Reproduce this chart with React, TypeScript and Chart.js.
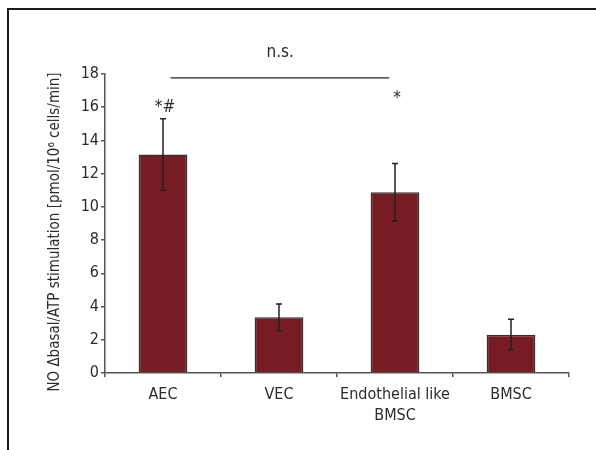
import React, { useEffect, useRef } from "react";
import { Chart, registerables } from "chart.js";

Chart.register(...registerables);

const categories: (string | string[])[] = ["AEC", "VEC", ["Endothelial like", "BMSC"], "BMSC"];
const meanValues = [13.15, 3.35, 10.88, 2.31];
const errorValues = [2.15, 0.8, 1.73, 0.92];
const markLabels = ["*#", "", "*", ""];
const markYValues = [16.0, 0, 16.5, 0];
const nsLabel = "n.s.";
const nsFromIndex = 0.065;
const nsToIndex = 1.95;
const nsLineY = 17.77;
const nsTextIndex = 1.01;
const nsTextY = 19.3;
const yTitle = "NO \u0394basal/ATP stimulation [pmol/10\u2076 cells/min]";

const FONT = "'Liberation Sans Narrow', 'DejaVu Sans Condensed', 'Liberation Sans', sans-serif";
const TEXT = "#2b2b2b";

const annotPlugin = {
  id: "annot",
  afterDatasetsDraw(chart: any) {
    const ctx = chart.ctx;
    const xs = chart.scales.x;
    const ys = chart.scales.y;
    const meta = chart.getDatasetMeta(0);
    ctx.save();
    // error bars
    ctx.strokeStyle = "#222";
    ctx.lineWidth = 1.5;
    meta.data.forEach((el: any, i: number) => {
      const x = el.x;
      const yt = ys.getPixelForValue(meanValues[i] + errorValues[i]);
      const yb = ys.getPixelForValue(meanValues[i] - errorValues[i]);
      ctx.beginPath();
      ctx.moveTo(x, yt);
      ctx.lineTo(x, yb);
      ctx.moveTo(x - 3, yt);
      ctx.lineTo(x + 3, yt);
      ctx.moveTo(x - 3, yb);
      ctx.lineTo(x + 3, yb);
      ctx.stroke();
    });
    // significance marks
    ctx.fillStyle = TEXT;
    ctx.font = `17px ${FONT}`;
    ctx.textAlign = "center";
    ctx.textBaseline = "middle";
    markLabels.forEach((lab, i) => {
      if (!lab) return;
      ctx.fillText(lab, xs.getPixelForValue(i) + 2, ys.getPixelForValue(markYValues[i]));
    });
    // n.s. bracket
    const ly = ys.getPixelForValue(nsLineY);
    ctx.strokeStyle = "#222";
    ctx.lineWidth = 1.3;
    ctx.beginPath();
    ctx.moveTo(xs.getPixelForValue(nsFromIndex), ly);
    ctx.lineTo(xs.getPixelForValue(nsToIndex), ly);
    ctx.stroke();
    ctx.fillText(nsLabel, xs.getPixelForValue(nsTextIndex), ys.getPixelForValue(nsTextY));
    // y title
    ctx.translate(55, 232);
    ctx.rotate(-Math.PI / 2);
    ctx.font = `15px ${FONT}`;
    ctx.fillText(yTitle, 0, 0);
    ctx.restore();
  },
};

export default function App() {
  const ref = useRef<HTMLCanvasElement>(null);
  useEffect(() => {
    if (!ref.current) return;
    const chart = new Chart(ref.current, {
      type: "bar",
      data: {
        labels: categories,
        datasets: [
          {
            data: meanValues,
            backgroundColor: "#761c22",
            borderColor: "#333",
            borderWidth: 1.5,
            categoryPercentage: 1,
            barPercentage: 0.42,
          },
        ],
      },
      options: {
        animation: false,
        responsive: false,
        layout: { padding: { left: 0, top: 74, right: 27, bottom: 0 } },
        plugins: { legend: { display: false }, tooltip: { enabled: false } },
        scales: {
          x: {
            afterFit: (s: any) => {
              s.height = 77;
            },
            grid: { display: true, drawOnChartArea: false, drawTicks: true, tickLength: 4, color: "#555", lineWidth: 1.5, offset: true },
            border: { display: true, color: "#555", width: 1.5 },
            ticks: { color: TEXT, font: { family: FONT, size: 16, lineHeight: 1.28 }, padding: 8, maxRotation: 0, autoSkip: false },
          },
          y: {
            min: 0,
            max: 18,
            afterFit: (s: any) => {
              s.width = 105;
            },
            grid: { display: true, drawOnChartArea: false, drawTicks: true, tickLength: 4, color: "#555", lineWidth: 1.5 },
            border: { display: true, color: "#555", width: 1.5 },
            ticks: { stepSize: 2, color: TEXT, font: { family: FONT, size: 16 }, padding: 2 },
          },
        },
      },
      plugins: [annotPlugin],
    });
    return () => chart.destroy();
  }, []);
  return (
    <div style={{ position: "fixed", left: 0, top: 0, width: 596, height: 450, overflow: "hidden", background: "#fff" }}>
      <div style={{ position: "absolute", left: 7, top: 8, width: 700, height: 600, borderTop: "2px solid #1a1a1a", borderLeft: "2px solid #1a1a1a" }} />
      <canvas ref={ref} width={596} height={450} style={{ position: "absolute", left: 0, top: 0 }} />
    </div>
  );
}
